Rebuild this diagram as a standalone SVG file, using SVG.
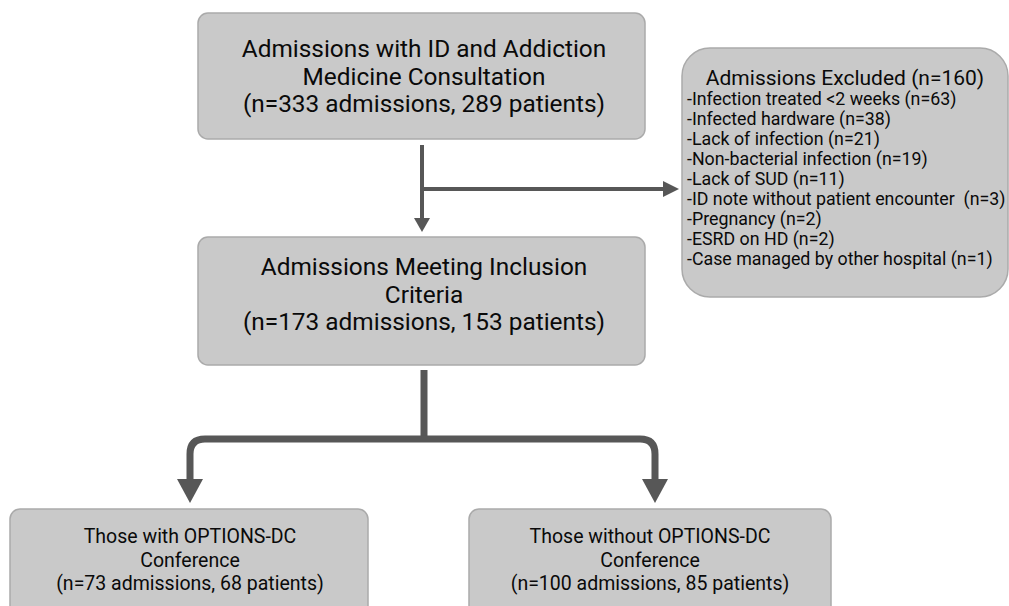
<svg xmlns="http://www.w3.org/2000/svg" width="1009" height="606" viewBox="0 0 1009 606">
<defs>
<style>
.box{fill:#c9c9c9;stroke:#aaaaaa;stroke-width:1.5}
.t{font-family:Roboto,"Liberation Sans",sans-serif;fill:#0a0a0a;text-anchor:middle}
.big{font-size:24.4px}
.mid{font-size:19.5px}
.ttl{font-size:21px}
.lst{font-family:Roboto,"Liberation Sans",sans-serif;fill:#0a0a0a;font-size:17.8px}
.c{fill:none;stroke:#575757}
.h{fill:#575757}
</style>
</defs>
<rect width="1009" height="606" fill="#ffffff"/>
<g id="connectors">
<line class="c" x1="422" y1="145" x2="422" y2="220" stroke-width="4"/>
<polygon class="h" points="414,218 430,218 422,232"/>
<line class="c" x1="422" y1="189" x2="665" y2="189" stroke-width="4"/>
<polygon class="h" points="663,181 663,197 679,189"/>
<path class="c" d="M424,370 V439" stroke-width="7"/>
<path class="c" d="M190,481 V454 Q190,439 205,439 H640 Q655,439 655,454 V481" stroke-width="7"/>
<polygon class="h" points="177,479 203,479 190,503"/>
<polygon class="h" points="642,479 668,479 655,503"/>
</g>
<g id="n1">
<rect class="box" x="198" y="13" width="447" height="126" rx="10"/>
<text class="t big" x="424" y="57">Admissions with ID and Addiction</text>
<text class="t big" x="424" y="85">Medicine Consultation</text>
<text class="t big" x="424" y="112">(n=333 admissions, 289 patients)</text>
</g>
<g id="n2">
<rect class="box" x="198" y="237" width="447" height="128" rx="10"/>
<text class="t big" x="424" y="275">Admissions Meeting Inclusion</text>
<text class="t big" x="424" y="303">Criteria</text>
<text class="t big" x="424" y="330">(n=173 admissions, 153 patients)</text>
</g>
<g id="excluded">
<rect class="box" x="682" y="48" width="326" height="249" rx="28"/>
<text class="t ttl" x="845" y="85">Admissions Excluded (n=160)</text>
<text class="lst" x="687" y="105">-Infection treated &lt;2 weeks (n=63)</text>
<text class="lst" x="687" y="125">-Infected hardware (n=38)</text>
<text class="lst" x="687" y="145">-Lack of infection (n=21)</text>
<text class="lst" x="687" y="165">-Non-bacterial infection (n=19)</text>
<text class="lst" x="687" y="185">-Lack of SUD (n=11)</text>
<text class="lst" x="687" y="205" xml:space="preserve">-ID note without patient encounter  (n=3)</text>
<text class="lst" x="687" y="225">-Pregnancy (n=2)</text>
<text class="lst" x="687" y="245">-ESRD on HD (n=2)</text>
<text class="lst" x="687" y="265">-Case managed by other hospital (n=1)</text>
</g>
<g id="left">
<rect class="box" x="10" y="509" width="358" height="120" rx="10"/>
<text class="t mid" x="190" y="543">Those with OPTIONS-DC</text>
<text class="t mid" x="190" y="567">Conference</text>
<text class="t mid" x="190" y="590">(n=73 admissions, 68 patients)</text>
</g>
<g id="right">
<rect class="box" x="469" y="509" width="362" height="120" rx="10"/>
<text class="t mid" x="650" y="543">Those without OPTIONS-DC</text>
<text class="t mid" x="650" y="567">Conference</text>
<text class="t mid" x="650" y="590">(n=100 admissions, 85 patients)</text>
</g>
</svg>
